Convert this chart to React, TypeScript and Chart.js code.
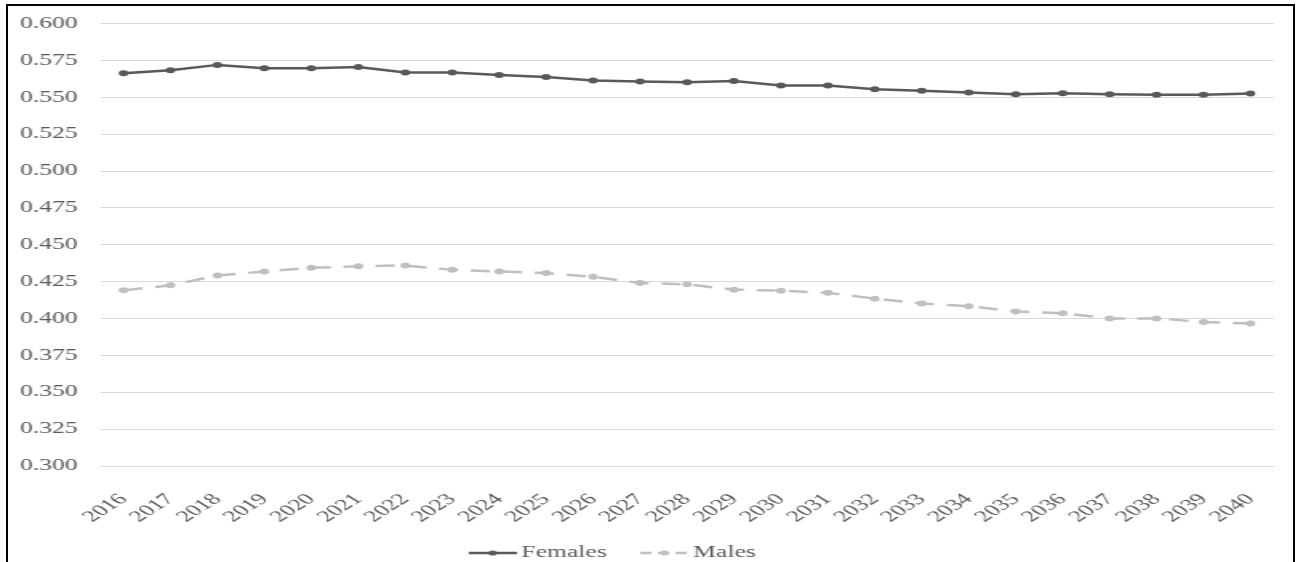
import React, { useEffect, useRef } from "react";
import { Chart, registerables } from "chart.js";

Chart.register(...registerables);

const years = [
  "2016", "2017", "2018", "2019", "2020", "2021", "2022", "2023", "2024", "2025",
  "2026", "2027", "2028", "2029", "2030", "2031", "2032", "2033", "2034", "2035",
  "2036", "2037", "2038", "2039", "2040",
];

const females = [
  0.5663, 0.5683, 0.572, 0.5697, 0.5697, 0.5705, 0.5668, 0.5668, 0.5652, 0.5638,
  0.5614, 0.5607, 0.5602, 0.561, 0.558, 0.558, 0.5555, 0.5544, 0.5533, 0.5521,
  0.5528, 0.5521, 0.5517, 0.5517, 0.5526,
];

const males = [
  0.4191, 0.4225, 0.4292, 0.4319, 0.4344, 0.4355, 0.436, 0.433, 0.4319, 0.4308,
  0.4283, 0.4241, 0.4232, 0.4196, 0.4189, 0.4174, 0.4135, 0.4102, 0.4084, 0.4048,
  0.4035, 0.4001, 0.4001, 0.3976, 0.3966,
];

const seriesNames = ["Females", "Males"];
const yMin = 0.3;
const yMax = 0.6;
const yStep = 0.025;

const FEMALE_COLOR = "#595959";
const MALE_COLOR = "#bfbfbf";
const TEXT_COLOR = "#595959";
const FONT_FAMILY = "'Liberation Serif', 'Times New Roman', serif";
const MALE_DASH = [12, 8];

// logical canvas size (it is stretched horizontally on screen)
const LOGICAL_W = 816;
const LOGICAL_H = 562;
const DISPLAY_W = 1306;
const DISPLAY_H = 562;

function makeMarker(color: string, dashed: boolean): HTMLCanvasElement {
  // transparent margin on the left so that the line sits where the legend box is
  const c = document.createElement("canvas");
  c.width = 44;
  c.height = 10;
  const ctx = c.getContext("2d")!;
  ctx.strokeStyle = color;
  ctx.lineWidth = 2.5;
  if (dashed) ctx.setLineDash([7, 4]);
  ctx.beginPath();
  ctx.moveTo(14, 5);
  ctx.lineTo(44, 5);
  ctx.stroke();
  ctx.setLineDash([]);
  ctx.fillStyle = color;
  ctx.beginPath();
  ctx.arc(29, 5, 2.6, 0, Math.PI * 2);
  ctx.fill();
  return c;
}

export default function App() {
  const canvasRef = useRef<HTMLCanvasElement | null>(null);

  useEffect(() => {
    const canvas = canvasRef.current;
    if (!canvas) return;
    const markers = [makeMarker(FEMALE_COLOR, false), makeMarker(MALE_COLOR, true)];

    const legendShift = {
      id: "legendShift",
      afterLayout(chart: any) {
        const lg = chart.legend;
        if (!lg) return;
        const dx = 378 - (lg.left + lg.right) / 2;
        lg.left += dx;
        lg.right += dx;
      },
    };

    const chart = new Chart(canvas, {
      type: "line",
      data: {
        labels: years,
        datasets: [
          {
            label: seriesNames[0],
            data: females,
            borderColor: FEMALE_COLOR,
            backgroundColor: FEMALE_COLOR,
            borderWidth: 2.5,
            pointRadius: 3,
            pointBorderWidth: 0,
            pointBackgroundColor: FEMALE_COLOR,
            tension: 0,
            fill: false,
          },
          {
            label: seriesNames[1],
            data: males,
            borderColor: MALE_COLOR,
            backgroundColor: MALE_COLOR,
            borderWidth: 2.5,
            borderDash: MALE_DASH,
            pointRadius: 3,
            pointBorderWidth: 0,
            pointBackgroundColor: MALE_COLOR,
            tension: 0,
            fill: false,
          },
        ],
      },
      options: {
        animation: false,
        responsive: false,
        devicePixelRatio: 1,
        layout: { padding: { top: 21, right: 20, left: 0, bottom: -9 } },
        font: { family: FONT_FAMILY, size: 16 },
        color: TEXT_COLOR,
        plugins: {
          tooltip: { enabled: false },
          title: { display: false },
          legend: {
            display: true,
            position: "bottom",
            labels: {
              usePointStyle: true,
              pointStyleWidth: 34,
              padding: 12,
              color: TEXT_COLOR,
              font: { family: FONT_FAMILY, size: 16 },
              generateLabels: (ch: any) =>
                ch.data.datasets.map((ds: any, i: number) => ({
                  text: ds.label,
                  fillStyle: ds.borderColor,
                  strokeStyle: ds.borderColor,
                  lineWidth: 0,
                  pointStyle: markers[i],
                  datasetIndex: i,
                  hidden: false,
                  fontColor: TEXT_COLOR,
                })),
            },
          },
        },
        scales: {
          x: {
            type: "category",
            offset: true,
            grid: { display: false, drawTicks: false },
            border: { display: false },
            ticks: {
              autoSkip: false,
              maxRotation: 45,
              minRotation: 45,
              padding: 24,
              color: TEXT_COLOR,
              font: { family: FONT_FAMILY, size: 16 },
            },
            afterFit: (scale: any) => {
              scale.height = 67;
              scale.paddingLeft = 0;
              scale.paddingRight = 0;
            },
          },
          y: {
            min: yMin,
            max: yMax,
            grid: { color: "#d9d9d9", lineWidth: 1, drawTicks: false },
            border: { display: false },
            ticks: {
              stepSize: yStep,
              padding: 14,
              color: TEXT_COLOR,
              font: { family: FONT_FAMILY, size: 16 },
              callback: (v: any) => Number(v).toFixed(3),
            },
            afterFit: (scale: any) => {
              scale.width = 62.5;
            },
          },
        },
      },
      plugins: [legendShift],
    } as any);

    return () => {
      chart.destroy();
    };
  }, []);

  return (
    <div
      style={{
        position: "fixed",
        left: 0,
        top: 0,
        width: DISPLAY_W,
        height: DISPLAY_H,
        overflow: "hidden",
        background: "#ffffff",
      }}
    >
      <canvas
        ref={canvasRef}
        width={LOGICAL_W}
        height={LOGICAL_H}
        style={{
          position: "absolute",
          left: 0,
          top: 0,
          width: DISPLAY_W + "px",
          height: DISPLAY_H + "px",
        }}
      />
      <div
        style={{
          position: "absolute",
          left: 6,
          top: 4,
          width: 1289,
          height: 620,
          boxSizing: "border-box",
          borderTop: "2px solid #000",
          borderLeft: "2px solid #000",
          borderRight: "2px solid #000",
          borderBottom: "none",
          pointerEvents: "none",
        }}
      />
    </div>
  );
}
